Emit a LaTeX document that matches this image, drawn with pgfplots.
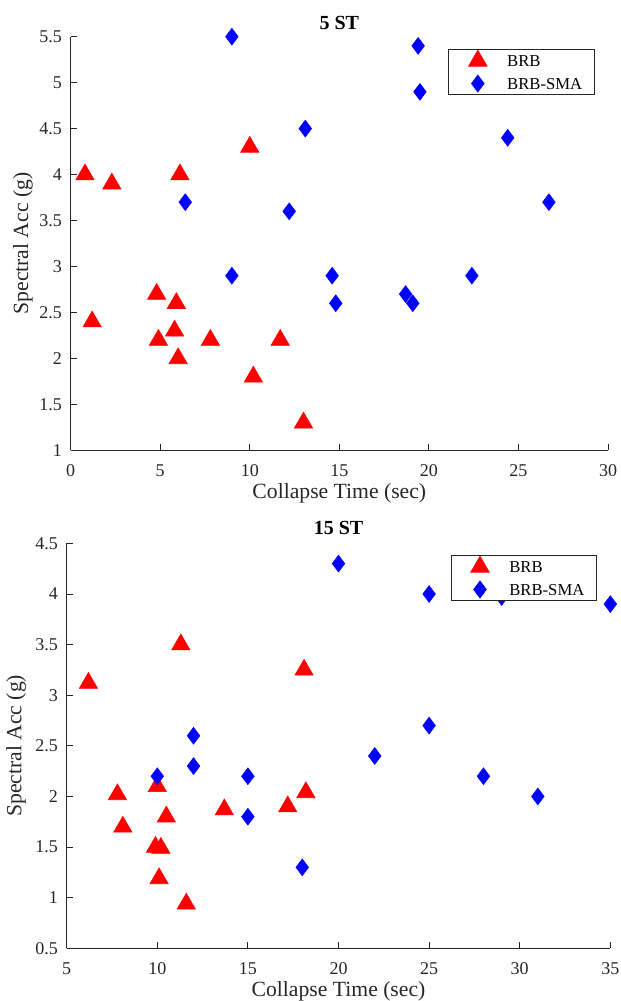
\documentclass[border=0pt]{standalone}
\usepackage{fontspec}
\setmainfont{Liberation Serif}
\usepackage{pgfplots}
\pgfplotsset{compat=1.18}
\definecolor{axgray}{RGB}{38,38,38}

% 5 ST data
\pgfplotstableread{
x y
0.8 4.0
2.3 3.9
1.2 2.4
4.8 2.7
4.9 2.2
5.9 2.6
5.8 2.3
6.1 4.0
6.0 2.0
7.8 2.2
10.0 4.3
10.2 1.8
11.7 2.2
13.0 1.3
}\brbfive
\pgfplotstableread{
x y
9.0 5.5
19.4 5.4
19.5 4.9
13.1 4.5
24.4 4.4
6.4 3.7
12.2 3.6
26.7 3.7
9.0 2.9
14.6 2.9
14.8 2.6
18.7 2.7
19.1 2.6
22.4 2.9
}\smafive
% 15 ST data
\pgfplotstableread{
x y
6.2 3.12
11.3 3.5
18.1 3.25
7.8 2.02
10.0 2.1
8.1 1.7
10.5 1.8
9.9 1.5
10.2 1.49
10.1 1.19
11.6 0.94
13.7 1.87
17.2 1.9
18.2 2.04
}\brbfifteen
\pgfplotstableread{
x y
20 4.3
25 4.0
29 3.97
35 3.9
25 2.7
22 2.4
12 2.6
12 2.3
10 2.2
15 2.2
15 1.8
28 2.2
31 2.0
18 1.3
}\smafifteen

\pgfplotsset{
  matlab/.style={
    scale only axis,
    axis x line*=bottom,
    axis y line*=left,
    axis line style={axgray, line width=0.5pt, -},
    tick align=inside,
    major tick length=4pt,
    tick style={axgray, line width=0.5pt},
    ticklabel style={font=\fontsize{10.8}{13}\selectfont, text=axgray},
    /pgf/number format/assume math mode=true,
    xticklabel style={yshift=-4.8pt},
    yticklabel style={xshift=-1.8pt},
    label style={font=\fontsize{13}{15}\selectfont, text=axgray},
    every axis title shift=0pt,
    title style={font=\bfseries\fontsize{12}{14}\selectfont, anchor=center},
    clip=false,
    legend cell align=left,
    legend style={draw=axgray, line width=0.5pt, fill=white, anchor=north east,
      font=\fontsize{10}{12}\selectfont, inner xsep=0pt, inner ysep=0pt,
      nodes={inner sep=0pt, text depth=0pt}, column sep=0pt, row sep=0pt},
    legend image code/.code={
      \path[draw=none, fill=none] (0pt,-6.8pt) rectangle (35pt,6.8pt);
      \draw[##1] plot coordinates {(17.4pt,0pt)};},
  },
  brb/.style={only marks, mark=triangle*, mark size=6.3pt, red,
    mark options={fill=red, draw=red}},
  sma/.style={only marks, mark=diamond*, mark size=5pt, blue,
    mark options={fill=blue, draw=blue}},
}

\begin{document}
\begin{tikzpicture}
\useasboundingbox (0pt,0pt) rectangle (372.6pt,-600.6pt);

\begin{axis}[matlab,
  at={(42.4pt,-270.2pt)}, anchor=south west,
  width=322.4pt, height=248.2pt,
  xmin=0, xmax=30, ymin=1, ymax=5.5,
  xtick={0,5,10,15,20,25,30},
  ytick={1,1.5,2,2.5,3,3.5,4,4.5,5,5.5},
  title={5 ST},
  title style={at={(axis description cs:0.5,1.034)}},
  xlabel={Collapse Time (sec)},
  xlabel style={at={(axis description cs:0.5,-0.104)}, anchor=center},
  ylabel={Spectral Acc (g)},
  ylabel style={at={(axis description cs:-0.089,0.5)}, anchor=center},
  legend style={at={(0.976,0.970)}},
]
\addplot[brb] table {\brbfive};
\addlegendentry{BRB}
\addplot[sma] table {\smafive};
\addlegendentry{BRB-SMA\hspace*{7.5pt}}
\end{axis}

\begin{axis}[matlab,
  at={(40.0pt,-569.0pt)}, anchor=south west,
  width=326.2pt, height=243pt,
  xmin=5, xmax=35, ymin=0.5, ymax=4.5,
  xtick={5,10,15,20,25,30,35},
  ytick={0.5,1,1.5,2,2.5,3,3.5,4,4.5},
  title={15 ST},
  title style={at={(axis description cs:0.5,1.037)}},
  xlabel={Collapse Time (sec)},
  xlabel style={at={(axis description cs:0.5,-0.106)}, anchor=center},
  ylabel={Spectral Acc (g)},
  ylabel style={at={(axis description cs:-0.093,0.5)}, anchor=center},
  legend style={at={(0.976,0.971)}},
]
\addplot[brb] table {\brbfifteen};
\addlegendentry{BRB}
\addplot[sma] table {\smafifteen};
\addlegendentry{BRB-SMA\hspace*{7.5pt}}
\end{axis}
\end{tikzpicture}
\end{document}
